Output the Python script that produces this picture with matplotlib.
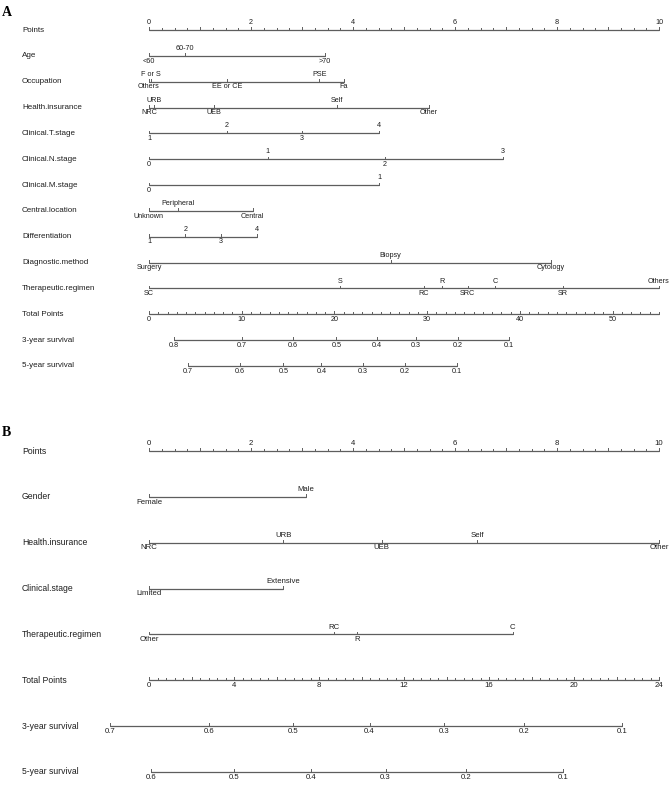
import matplotlib.pyplot as plt
import numpy as np

plt.rcParams['font.family'] = ['Liberation Sans', 'DejaVu Sans']

# ---- panel A data ----
a_vars = ['Age', 'Occupation', 'Health.insurance', 'Clinical.T.stage',
          'Clinical.N.stage', 'Clinical.M.stage', 'Central.location',
          'Differentiation', 'Diagnostic.method', 'Therapeutic.regimen']
a_levels = [['<60', '60-70', '>70'],
            ['Others', 'F or S', 'EE or CE', 'PSE', 'Fa'],
            ['NRC', 'URB', 'UEB', 'Self', 'Other'],
            ['1', '2', '3', '4'],
            ['0', '1', '2', '3'],
            ['0', '1'],
            ['Unknown', 'Peripheral', 'Central'],
            ['1', '2', '3', '4'],
            ['Surgery', 'Biopsy', 'Cytology'],
            ['SC', 'S', 'RC', 'R', 'SRC', 'C', 'SR', 'Others']]
a_scores = [[0, 0.71, 3.45],
            [0, 0.03, 1.53, 3.34, 3.82],
            [0, 0.1, 1.27, 3.69, 5.49],
            [0, 1.52, 3.0, 4.51],
            [0, 2.33, 4.63, 6.94],
            [0, 4.51],
            [0, 0.57, 2.03],
            [0, 0.71, 1.41, 2.11],
            [0, 4.74, 7.88],
            [0, 3.75, 5.39, 5.75, 6.25, 6.78, 8.12, 10.0]]
a_total_max = 55
a_total_labels = [0, 10, 20, 30, 40, 50]
a_surv3 = ['0.8', '0.7', '0.6', '0.5', '0.4', '0.3', '0.2', '0.1']
a_surv3_tp = [2.7, 10.0, 15.5, 20.2, 24.6, 28.8, 33.3, 38.8]
a_surv5 = ['0.7', '0.6', '0.5', '0.4', '0.3', '0.2', '0.1']
a_surv5_tp = [4.2, 9.8, 14.5, 18.6, 23.1, 27.6, 33.2]

# ---- panel B data ----
b_vars = ['Gender', 'Health.insurance', 'Clinical.stage', 'Therapeutic.regimen']
b_levels = [['Female', 'Male'],
            ['NRC', 'URB', 'UEB', 'Self', 'Other'],
            ['Limited', 'Extensive'],
            ['Other', 'RC', 'R', 'C']]
b_scores = [[0, 3.08],
            [0, 2.63, 4.56, 6.44, 10.0],
            [0, 2.63],
            [0, 3.63, 4.08, 7.13]]
b_total_max = 24
b_total_labels = [0, 4, 8, 12, 16, 20, 24]
b_surv3 = ['0.7', '0.6', '0.5', '0.4', '0.3', '0.2', '0.1']
b_surv3_tp = [-1.84, 2.83, 6.79, 10.38, 13.87, 17.64, 22.26]
b_surv5 = ['0.6', '0.5', '0.4', '0.3', '0.2', '0.1']
b_surv5_tp = [0.09, 4.0, 7.64, 11.13, 14.9, 19.5]

W, H = 670, 787
LC = '#5e5e5e'
TC = '#1e1e1e'

fig = plt.figure(figsize=(W / 100, H / 100), dpi=100)


def make_axes(y_top, y_bot, nrows):
    ax = fig.add_axes([0, 1 - y_bot / H, 1, (y_bot - y_top) / H])
    ppx = (659 - 149) / 10
    ax.set_xlim(-149 / ppx, (W - 149) / ppx)
    ax.set_ylim(nrows - 1, 0)
    ax.axis('off')
    return ax, (y_bot - y_top) / (nrows - 1)


def tick(ax, x, y, length, rowpx):
    ax.plot([x, x], [y, y - length / rowpx], color=LC, lw=0.7, clip_on=False)


def hline(ax, x0, x1, y):
    ax.plot([x0, x1], [y, y], color=LC, lw=0.9, solid_capstyle='butt', clip_on=False)


def label(ax, x, y, s, above, fs):
    ax.annotate(s, (x, y), xytext=(0, 2.8 if above else -1.2),
                textcoords='offset points', ha='center',
                va='bottom' if above else 'top', fontsize=fs, color=TC,
                annotation_clip=False)


def draw_panel(ax, rowpx, vars_, levels, scores, tmax, tlabels, tminor, tmid,
               s3, s3tp, s5, s5tp, fs_row, fs_tick):
    names = ['Points'] + vars_ + ['Total Points', '3-year survival', '5-year survival']
    for i, n in enumerate(names):
        ax.text(22 / W, i, n, transform=ax.get_yaxis_transform(),
                ha='left', va='center', fontsize=fs_row, color=TC)

    # points scale
    hline(ax, 0, 10, 0)
    for v in np.arange(0, 10.001, 0.25):
        major = abs(v / 2 - round(v / 2)) < 1e-6
        mid = abs(v - round(v)) < 1e-6
        tick(ax, v, 0, 3.5 if major else (2.8 if mid else 2.0), rowpx)
        if major:
            label(ax, v, 0, f'{v:g}', True, fs_tick)

    # variables
    for i, (lv, sc) in enumerate(zip(levels, scores), start=1):
        hline(ax, min(sc), max(sc), i)
        order = np.argsort(sc, kind='stable')
        for k, j in enumerate(order):
            above = k % 2 == 1
            tick(ax, sc[j], i, 2.5, rowpx)
            label(ax, sc[j], i, lv[j], above, fs_tick)

    # total points
    r = len(vars_) + 1
    k = 10 / tmax
    hline(ax, 0, tmax * k, r)
    for v in np.arange(0, tmax + 1e-6, tminor):
        lab = any(abs(v - t) < 1e-6 for t in tlabels)
        mid = abs(v / tmid - round(v / tmid)) < 1e-6
        tick(ax, v * k, r, 3.5 if lab else (2.8 if mid else 2.0), rowpx)
    for t in tlabels:
        label(ax, t * k, r, str(t), False, fs_tick)

    # survival scales
    for rr, labs, tps in [(r + 1, s3, s3tp), (r + 2, s5, s5tp)]:
        hline(ax, min(tps) * k, max(tps) * k, rr)
        for s, tp in zip(labs, tps):
            tick(ax, tp * k, rr, 3.0, rowpx)
            label(ax, tp * k, rr, s, False, fs_tick)


axA, rpA = make_axes(30, 366, 14)
draw_panel(axA, rpA, a_vars, a_levels, a_scores, a_total_max, a_total_labels, 1, 5,
           a_surv3, a_surv3_tp, a_surv5, a_surv5_tp, 5.8, 5.2)

axB, rpB = make_axes(451, 772, 8)
draw_panel(axB, rpB, b_vars, b_levels, b_scores, b_total_max, b_total_labels, 0.4, 2,
           b_surv3, b_surv3_tp, b_surv5, b_surv5_tp, 6.2, 5.6)

fig.text(2 / W, 1 - 12 / H, 'A', fontsize=10, fontweight='bold',
         family=['Liberation Serif', 'DejaVu Serif'], va='center', ha='left')
fig.text(2 / W, 1 - 432 / H, 'B', fontsize=10, fontweight='bold',
         family=['Liberation Serif', 'DejaVu Serif'], va='center', ha='left')

fig.savefig('out.png', dpi=100)
